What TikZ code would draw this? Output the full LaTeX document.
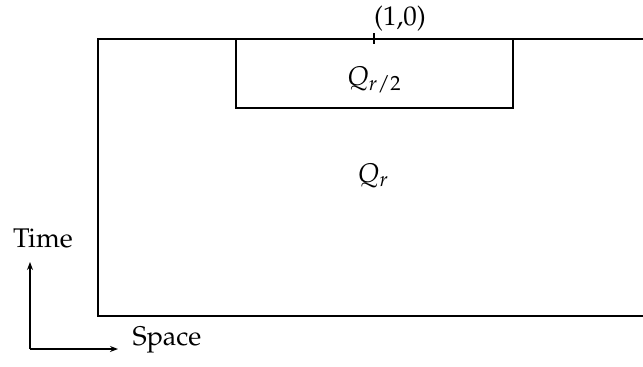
\documentclass[tikz,border=0pt]{standalone}
\usepackage[T1]{fontenc}
\usepackage{mathpazo}
\usetikzlibrary{arrows.meta}
\tikzset{
  lbl/.style={font=\fontsize{27}{32}\selectfont, inner sep=0pt, anchor=base},
  frame/.style={line width=2pt},
  inner/.style={line width=1.6pt},
  axis/.style={line width=1.8pt, -{Stealth[length=8pt,width=6pt]}}
}
\begin{document}
\begin{tikzpicture}[x=1pt,y=-1pt]
\useasboundingbox (0,0) rectangle (643,367);
\fill[white] (0,0) rectangle (643,367);
% outer region (right side beyond picture)
\draw[frame] (646,39) -- (98,39) -- (98,316) -- (646,316);
% inner box
\draw[inner] (236,39) -- (236,108) -- (513,108) -- (513,39);
% tick
\coordinate (tk1) at (374,33);
\coordinate (tk2) at (374,44);
\draw[line width=1.4pt] (tk1) -- (tk2);
\node[lbl, anchor=base west] (pt) at (374,25) {(1,0)};
\node[lbl] (qh) at (374,85) {$Q_{r/2}$};
\node[lbl] (q) at (373,182) {$Q_r$};
\node[lbl] (time) at (43,247) {Time};
\node[lbl] (space) at (167,345) {Space};
% axes
\coordinate (o) at (30,349);
\coordinate (t) at (30,262);
\coordinate (s) at (118,349);
\draw[axis] (o) -- (t);
\draw[axis] (o) -- (s);
\end{tikzpicture}
\end{document}
